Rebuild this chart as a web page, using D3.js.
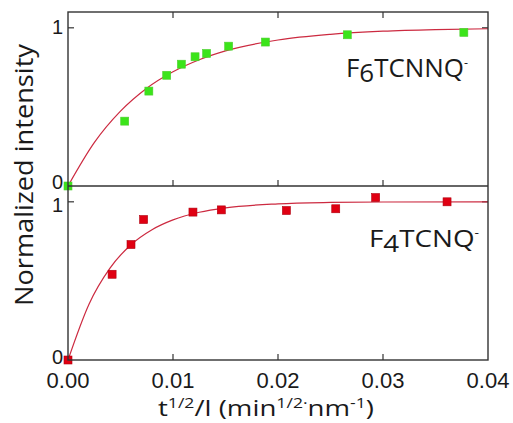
<!DOCTYPE html>
<html><head><meta charset="utf-8">
<script src="https://cdn.jsdelivr.net/npm/d3@7"></script>
<style>body{margin:0;background:#fff;} svg{display:block;} text{font-family:"Open Sans",sans-serif;fill:#1a1a1a;} .tk{font-family:"Liberation Sans",Arial,sans-serif;}</style>
</head><body>
<svg id="c" width="513" height="423"></svg>
<script>
// Data
const xTicks = [0, 0.01, 0.02, 0.03, 0.04];
const xTickLabels = ["0.00", "0.01", "0.02", "0.03", "0.04"];
const yTicks = [0, 1];
const yTickLabels = ["0", "1"];

const f6X = [0, 0.0054, 0.0077, 0.0094, 0.0108, 0.0121, 0.0132, 0.0153, 0.0188, 0.0266, 0.0377];
const f6Y = [0, 0.41, 0.60, 0.70, 0.77, 0.817, 0.838, 0.884, 0.91, 0.956, 0.971];
const f6FitX = [0, 0.0025, 0.005, 0.0075, 0.01, 0.0125, 0.015, 0.02, 0.025, 0.03, 0.035, 0.04];
const f6FitY = [0, 0.274, 0.473, 0.618, 0.722, 0.798, 0.854, 0.923, 0.959, 0.979, 0.989, 0.994];

const f4X = [0, 0.0042, 0.0060, 0.0072, 0.0119, 0.0146, 0.0208, 0.0255, 0.0293, 0.0361];
const f4Y = [0, 0.542, 0.73, 0.888, 0.935, 0.949, 0.945, 0.956, 1.027, 1.0];
const f4FitX = [0, 0.002, 0.004, 0.006, 0.008, 0.01, 0.0125, 0.015, 0.02, 0.025, 0.03, 0.04];
const f4FitY = [0, 0.353, 0.581, 0.729, 0.824, 0.886, 0.934, 0.962, 0.987, 0.996, 0.999, 1.0];

const svg = d3.select("#c");
const L = 68, R = 488, T = 12, MID = 186, B = 360;
const x = d3.scaleLinear().domain([0, 0.04]).range([L, R]);
const yTop = d3.scaleLinear().domain([0, 1.1]).range([MID, T]);
const yBot = d3.scaleLinear().domain([0, 1.1]).range([B, MID]);

const frame = "#333", curveCol = "#cc2a40", green = "#3be41a", red = "#e00012";
const tickLen = 6;

function panel(y, xs, ys, fx, fy, col, stroke, labelDy) {
  const y0 = y.range()[0], y1 = y.range()[1];
  const g = svg.append("g");
  [0.01, 0.02, 0.03].forEach(v => {
    g.append("line").attr("x1", x(v)).attr("x2", x(v)).attr("y1", y0).attr("y2", y0 - tickLen).attr("stroke", frame).attr("stroke-width", 1.2);
    if (y === yTop) g.append("line").attr("x1", x(v)).attr("x2", x(v)).attr("y1", y1).attr("y2", y1 + tickLen).attr("stroke", frame).attr("stroke-width", 1.2);
  });
  g.append("line").attr("x1", L).attr("x2", L + tickLen).attr("y1", y(1)).attr("y2", y(1)).attr("stroke", frame).attr("stroke-width", 1.2);
  g.append("line").attr("x1", R).attr("x2", R - tickLen).attr("y1", y(1)).attr("y2", y(1)).attr("stroke", frame).attr("stroke-width", 1.2);
  yTicks.forEach((v, i) => {
    g.append("text").attr("class", "tk").attr("x", L - 5).attr("y", y(v) + labelDy[i]).attr("text-anchor", "end").attr("font-size", 20).text(yTickLabels[i]);
  });
  const line = d3.line().x(d => x(d[0])).y(d => y(d[1])).curve(d3.curveMonotoneX);
  g.append("path").datum(fx.map((v, i) => [v, fy[i]])).attr("d", line).attr("fill", "none").attr("stroke", curveCol).attr("stroke-width", 1.2);
  const s = 8;
  g.selectAll("rect.p").data(xs.map((v, i) => [v, ys[i]])).join("rect")
    .attr("x", d => x(d[0]) - s / 2).attr("y", d => y(d[1]) - s / 2).attr("width", s).attr("height", s)
    .attr("fill", col).attr("stroke", stroke).attr("stroke-width", 0.6);
}

panel(yTop, f6X, f6Y, f6FitX, f6FitY, green, "#4fcf30", [3, 6]);
panel(yBot, f4X, f4Y, f4FitX, f4FitY, red, "#b00010", [4, 10]);

// frames
svg.append("rect").attr("x", L).attr("y", T).attr("width", R - L).attr("height", B - T).attr("fill", "none").attr("stroke", frame).attr("stroke-width", 1.4);
svg.append("line").attr("x1", L).attr("x2", R).attr("y1", MID).attr("y2", MID).attr("stroke", frame).attr("stroke-width", 1.4);

// x tick labels
xTicks.forEach((v, i) => {
  svg.append("text").attr("class", "tk").attr("x", x(v)).attr("y", 388).attr("text-anchor", "middle").attr("font-size", 22).text(xTickLabels[i]);
});

// axis titles
const xt = svg.append("text").attr("x", 158).attr("y", 416).attr("font-size", 22)
  .attr("textLength", 216).attr("lengthAdjust", "spacingAndGlyphs");
xt.append("tspan").text("t");
xt.append("tspan").attr("dy", -8).attr("font-size", 14).text("1/2");
xt.append("tspan").attr("dy", 8).text("/l (min");
xt.append("tspan").attr("dy", -8).attr("font-size", 14).text("1/2");
xt.append("tspan").attr("font-size", 14).text("·");
xt.append("tspan").attr("dy", 8).text("nm");
xt.append("tspan").attr("dy", -8).attr("font-size", 14).text("-1");
xt.append("tspan").attr("dy", 8).text(")");

svg.append("text").attr("transform", "translate(33,175) rotate(-90)").attr("text-anchor", "middle").attr("font-size", 25)
  .attr("textLength", 262).attr("lengthAdjust", "spacingAndGlyphs").text("Normalized intensity");

// series labels
const l1 = svg.append("text").attr("x", 346).attr("y", 77).attr("font-size", 25)
  .attr("textLength", 122).attr("lengthAdjust", "spacingAndGlyphs");
l1.append("tspan").text("F");
l1.append("tspan").attr("dy", 5).text("6");
l1.append("tspan").attr("dy", -5).text("TCNNQ");
l1.append("tspan").attr("dy", -10).attr("font-size", 12).text("-");

const l2 = svg.append("text").attr("x", 369).attr("y", 247).attr("font-size", 24)
  .attr("textLength", 110).attr("lengthAdjust", "spacingAndGlyphs");
l2.append("tspan").text("F");
l2.append("tspan").attr("dy", 5).text("4");
l2.append("tspan").attr("dy", -5).text("TCNQ");
l2.append("tspan").attr("dy", -10).attr("font-size", 12).text("-");
</script>
</body></html>
